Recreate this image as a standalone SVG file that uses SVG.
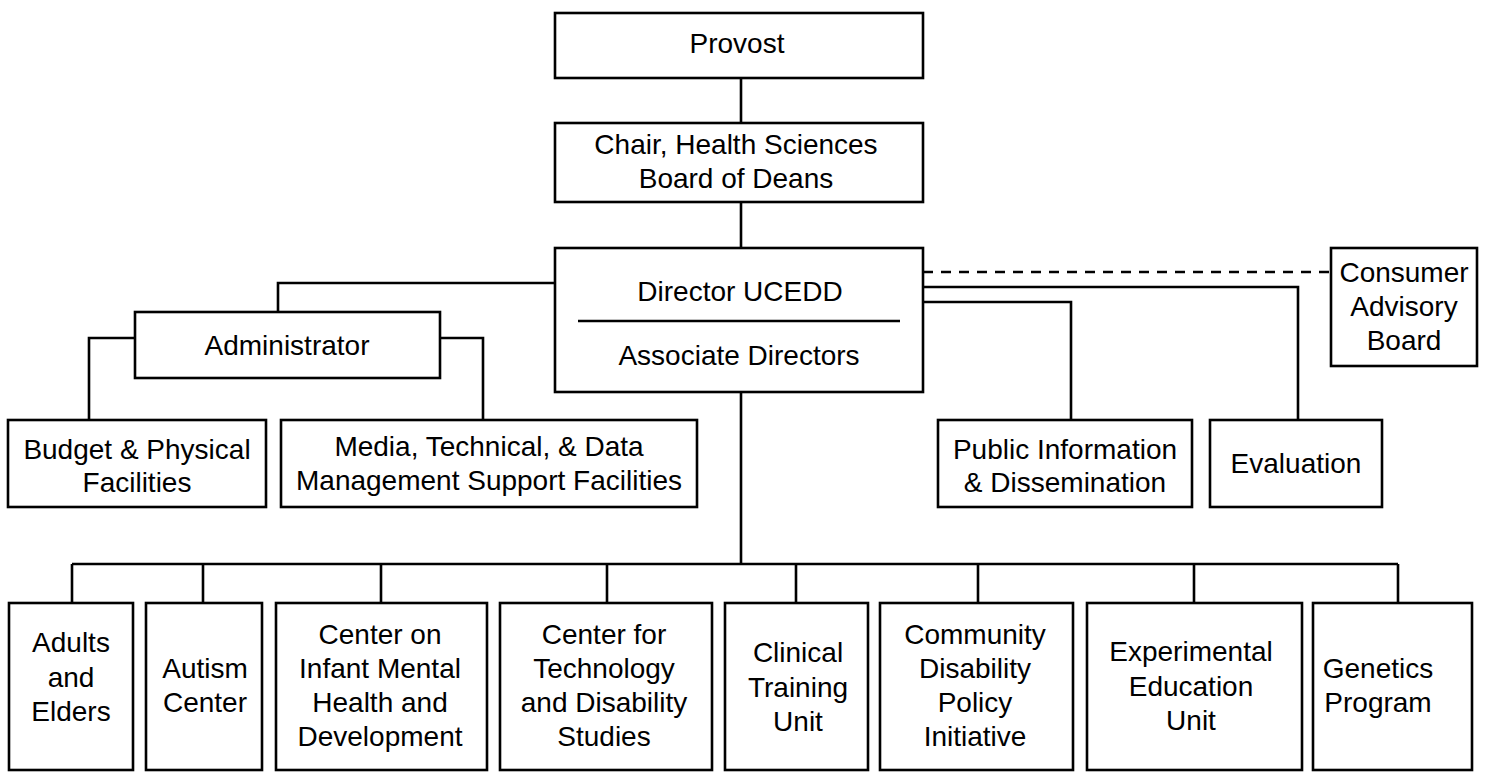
<svg xmlns="http://www.w3.org/2000/svg" width="1491" height="772" viewBox="0 0 1491 772">
<style>
rect{fill:#fff;stroke:#000;stroke-width:2.6}
.c{fill:none;stroke:#000;stroke-width:2.6}
.d{fill:none;stroke:#000;stroke-width:2.6;stroke-dasharray:10 8}
text{font-family:"Liberation Sans",Arial,sans-serif;font-size:28px;fill:#000;text-anchor:middle}
</style>
<rect width="1491" height="772" style="fill:#fff;stroke:none"/>
<g id="connectors">
<path class="c" d="M741 78V123M741 202V248"/>
<path class="c" d="M555 283H278V312"/>
<path class="c" d="M135 338H89V420M440 338H483V420"/>
<path class="c" d="M741 392V564M72 564H1398"/>
<path class="c" d="M72 564V603M203 564V603M381 564V603M607 564V603M796 564V603M978 564V603M1194 564V603M1398 564V603"/>
<path class="d" d="M923 272H1331"/>
<path class="c" d="M923 287H1298V420M923 302H1071V420"/>
</g>
<g id="provost"><rect x="555" y="13" width="368" height="65"/><text x="737" y="53">Provost</text></g>
<g id="chair"><rect x="555" y="123" width="368" height="79"/><text x="736" y="154">Chair, Health Sciences</text><text x="736" y="188">Board of Deans</text></g>
<g id="director"><rect x="555" y="248" width="368" height="144"/><path class="c" d="M578 321H900"/><text x="740" y="301">Director UCEDD</text><text x="739" y="365">Associate Directors</text></g>
<g id="administrator"><rect x="135" y="312" width="305" height="66"/><text x="287" y="355">Administrator</text></g>
<g id="budget"><rect x="8" y="420" width="258" height="87"/><text x="137" y="459">Budget &amp; Physical</text><text x="137" y="492">Facilities</text></g>
<g id="media"><rect x="281" y="420" width="416" height="87"/><text x="489" y="456">Media, Technical, &amp; Data</text><text x="489" y="490">Management Support Facilities</text></g>
<g id="public-info"><rect x="938" y="420" width="254" height="87"/><text x="1065" y="459">Public Information</text><text x="1065" y="492">&amp; Dissemination</text></g>
<g id="evaluation"><rect x="1210" y="420" width="172" height="87"/><text x="1296" y="473">Evaluation</text></g>
<g id="consumer"><rect x="1331" y="248" width="146" height="118"/><text x="1404" y="282">Consumer</text><text x="1404" y="316">Advisory</text><text x="1404" y="350">Board</text></g>
<g id="adults"><rect x="9" y="603" width="124" height="167"/><text x="71" y="652">Adults</text><text x="71" y="687">and</text><text x="71" y="721">Elders</text></g>
<g id="autism"><rect x="146" y="603" width="116" height="167"/><text x="205" y="678">Autism</text><text x="205" y="712">Center</text></g>
<g id="infant"><rect x="276" y="603" width="211" height="167"/><text x="380" y="644">Center on</text><text x="380" y="678">Infant Mental</text><text x="380" y="712">Health and</text><text x="380" y="746">Development</text></g>
<g id="technology"><rect x="500" y="603" width="212" height="167"/><text x="604" y="644">Center for</text><text x="604" y="678">Technology</text><text x="604" y="712">and Disability</text><text x="604" y="746">Studies</text></g>
<g id="clinical"><rect x="725" y="603" width="143" height="167"/><text x="798" y="662">Clinical</text><text x="798" y="697">Training</text><text x="798" y="731">Unit</text></g>
<g id="community"><rect x="880" y="603" width="193" height="167"/><text x="975" y="644">Community</text><text x="975" y="678">Disability</text><text x="975" y="712">Policy</text><text x="975" y="746">Initiative</text></g>
<g id="experimental"><rect x="1087" y="603" width="215" height="167"/><text x="1191" y="661">Experimental</text><text x="1191" y="696">Education</text><text x="1191" y="730">Unit</text></g>
<g id="genetics"><rect x="1313" y="603" width="159" height="167"/><text x="1378" y="678">Genetics</text><text x="1378" y="712">Program</text></g>
</svg>
